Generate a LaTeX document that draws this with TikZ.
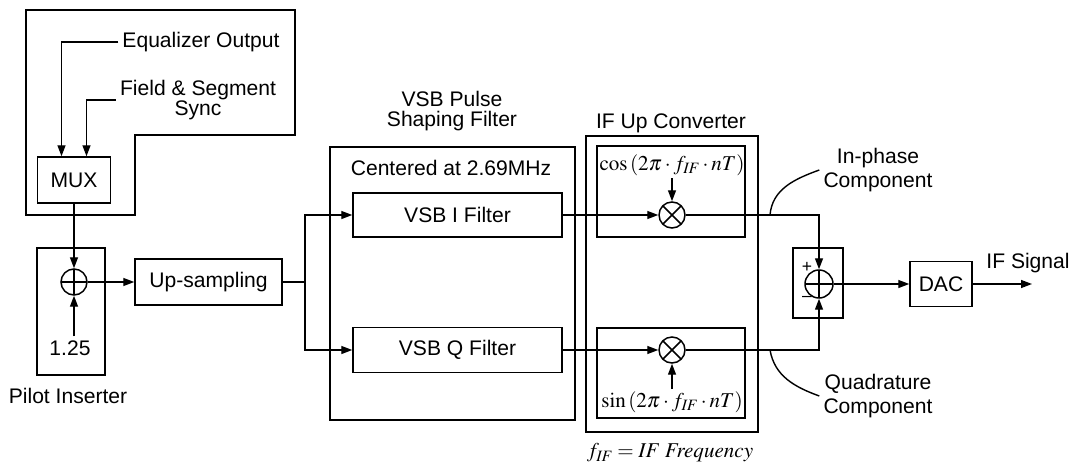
\documentclass[tikz,border=0pt]{standalone}
\usepackage{mathptmx}
\usepackage[no-math]{fontspec}
\setmainfont{Liberation Sans}
\usetikzlibrary{arrows.meta,positioning}
\tikzset{
    blk/.style={draw, line width=0.85pt, inner sep=0pt, font=\fontsize{12}{14}\selectfont},
    grp/.style={draw, line width=1.3pt, inner sep=0pt},
    txt/.style={font=\fontsize{12}{11.5}\selectfont, align=center, inner sep=2pt},
    mth/.style={font=\fontsize{12}{14}\selectfont, inner sep=1pt},
    sgn/.style={font=\fontsize{10}{10}\selectfont, inner sep=0pt},
    addr/.style={circle, draw, line width=0.85pt, minimum size=0.52cm, inner sep=0pt,
        path picture={\draw[line width=0.85pt] (path picture bounding box.north) -- (path picture bounding box.south)
            (path picture bounding box.west) -- (path picture bounding box.east);}},
    mixr/.style={circle, draw, line width=0.85pt, minimum size=0.52cm, inner sep=0pt,
        path picture={\draw[line width=0.85pt] (path picture bounding box.north west) -- (path picture bounding box.south east)
            (path picture bounding box.north east) -- (path picture bounding box.south west);}}
}
\begin{document}
\begin{tikzpicture}[x=0.02cm, y=-0.02cm, >={Triangle[length=2.2mm, width=1.6mm]}, line width=0.8pt]
    \useasboundingbox (0,0) rectangle (1074,466);

    \draw[grp] (26,10) -- (295,10) -- (295,135) -- (135,135) -- (135,215) -- (26,215) -- cycle;
    \node[txt] (eqout) at (201,42) {Equalizer Output};
    \node[txt] (fss) at (198,100) {Field \& Segment\\Sync};
    \node[blk, minimum width=1.46cm, minimum height=0.92cm] (mux) at (74,180) {MUX};
    \draw[->] (eqout.west) -| ([xshift=-0.25cm]mux.north);
    \draw[->] (fss.west) -| ([xshift=0.25cm]mux.north);

    \node[grp, minimum width=1.36cm, minimum height=2.54cm] (pilot) at (71,311.5) {};
    \node[addr] (add) at (74,282) {};
    \node[txt] (gain) at (70,348) {1.25};
    \node[txt] at (68,396) {Pilot Inserter};
    \draw[->] (mux) -- (add);
    \draw[->] (gain.north -| add.south) -- (add);

    \node[blk, minimum width=2.94cm, minimum height=0.92cm] (up) at (208.5,282) {Up-sampling};
    \draw[->] (add) -- (up);
    \coordinate (split) at (305,282);
    \draw (up) -- (split);

    \node[grp, minimum width=4.9cm, minimum height=5.46cm] (vsbbox) at (452.5,283.5) {};
    \node[txt] at (452,111) {VSB Pulse\\Shaping Filter};
    \node[txt] at (451,168) {Centered at 2.69MHz};
    \node[blk, minimum width=4.18cm, minimum height=0.88cm] (vsbi) at (457.5,215) {VSB I Filter};
    \node[blk, minimum width=4.18cm, minimum height=0.9cm] (vsbq) at (457.5,350) {VSB Q Filter};
    \draw[->] (split) |- (vsbi);
    \draw[->] (split) |- (vsbq);

    \node[grp, minimum width=3.44cm, minimum height=5.92cm] (ifbox) at (672,284) {};
    \node[txt] at (671,123) {IF Up Converter};
    \node[blk, minimum width=2.96cm, minimum height=1.82cm] (cosbox) at (671,191.5) {};
    \node[blk, minimum width=2.96cm, minimum height=1.8cm] (sinbox) at (671,373) {};
    \node[mth] (cos) at (672,165) {$\cos\left(2\pi\cdot f_{\mathit{IF}}\cdot nT\right)$};
    \node[mth] (sin) at (672,402) {$\sin\left(2\pi\cdot f_{\mathit{IF}}\cdot nT\right)$};
    \node[mixr] (muli) at (672,215) {};
    \node[mixr] (mulq) at (672,350) {};
    \draw[->] (cos) -- (muli);
    \draw[->] (sin) -- (mulq);
    \draw[->] (vsbi) -- (muli);
    \draw[->] (vsbq) -- (mulq);
    \node[mth] at (670,453) {$f_{\mathit{IF}} = \mathit{IF\ Frequency}$};

    \node[grp, minimum width=1cm, minimum height=1.4cm] (sumbox) at (818,283) {};
    \node[addr, minimum size=0.56cm] (sum) at (819,284) {};
    \draw[->] (muli) -| (sum);
    \draw[->] (mulq) -| (sum);
    \node[sgn] at (807,267) {+};
    \node[sgn] at (807,299) {–};

    \node[blk, minimum width=1.24cm, minimum height=0.9cm] (dac) at (941,284) {DAC};
    \draw[->] (sum) -- (dac);
    \coordinate (out) at (1032,284);
    \draw[->] (dac) -- (out);
    \node[txt] at (1028,263) {IF Signal};

    \node[txt, font=\fontsize{12}{13.5}\selectfont] (inph) at (878,170) {In-phase\\Component};
    \node[txt, font=\fontsize{12}{13.5}\selectfont] (quad) at (878,396) {Quadrature\\Component};
    \coordinate (itap) at (770,215);
    \coordinate (qtap) at (770,350);
    \draw (itap) to[out=85, in=200] (inph.west);
    \draw (qtap) to[out=-80, in=160] (quad.west);
\end{tikzpicture}
\end{document}
